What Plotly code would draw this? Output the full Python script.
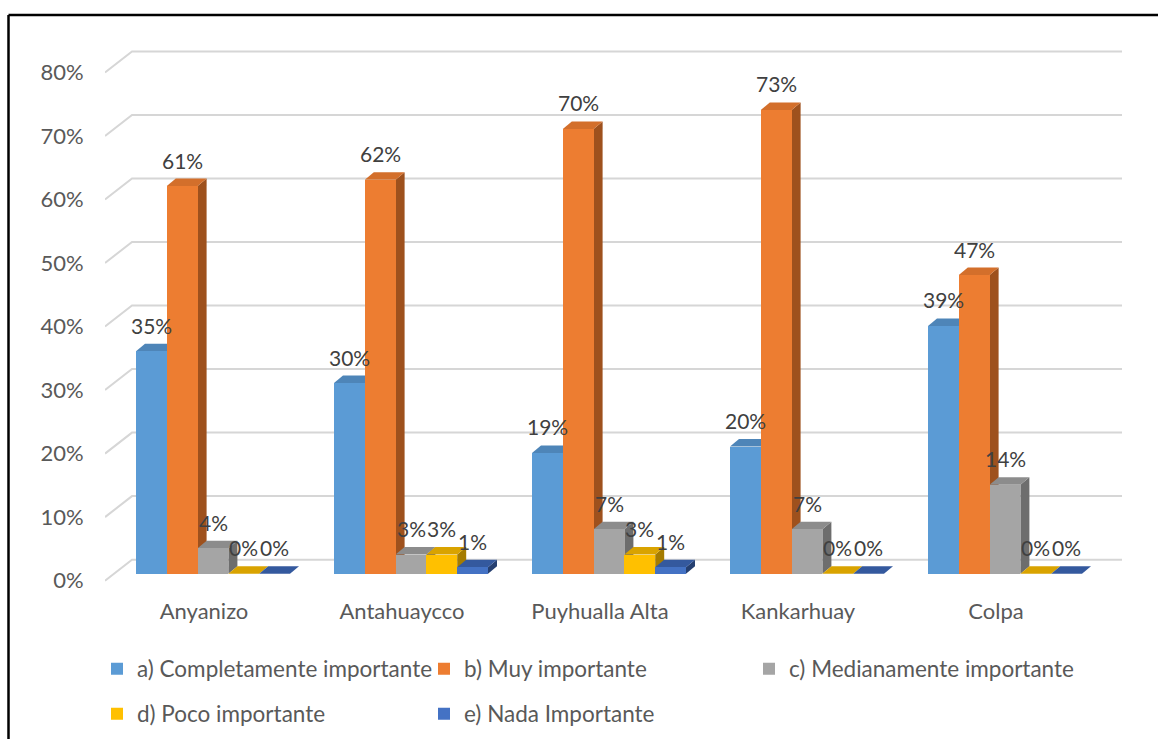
import plotly.graph_objects as go

# ---- data -------------------------------------------------------------
categories = ["Anyanizo", "Antahuaycco", "Puyhualla Alta", "Kankarhuay", "Colpa"]
series_names = [
    "a) Completamente importante",
    "b) Muy importante",
    "c) Medianamente importante",
    "d) Poco importante",
    "e) Nada Importante",
]
completamente = [35, 30, 19, 20, 39]
muy = [61, 62, 70, 73, 47]
medianamente = [4, 3, 7, 7, 14]
poco = [0, 3, 3, 0, 0]
nada = [0, 1, 1, 0, 0]
y_ticks = [0, 10, 20, 30, 40, 50, 60, 70, 80]

series_values = [completamente, muy, medianamente, poco, nada]

# ---- styling ----------------------------------------------------------
front_colors = ["#5B9BD5", "#ED7D31", "#A5A5A5", "#FFC000", "#4472C4"]
top_colors = ["#4E85B8", "#D36F2B", "#8C8C8C", "#D9A300", "#34599E"]
side_colors = ["#3E6A94", "#9E511D", "#6D6D6D", "#A57C00", "#253F70"]
FONT = "Lato, 'Open Sans', sans-serif"

W, H = 1158, 739
ML, MR, MT, MB = 105, 36, 47, 152
PLOT_W = W - ML - MR
PLOT_H = H - MT - MB
SLOT_PX = PLOT_W / (len(categories) + 27 / 198)      # pixels per category slot
Y_MIN, Y_MAX = -1, 84
PX_PER_PCT = PLOT_H / (Y_MAX - Y_MIN)

# 3D projection offsets (pixels -> axis units)
WALL_DX = 27 / SLOT_PX          # depth of the back wall
WALL_DY = 21 / PX_PER_PCT
BAR_BASE = 7 / PX_PER_PCT       # bars sit a little behind the front plane
BAR_W = 30.8 / SLOT_PX
GROUP_START = 31 / SLOT_PX
DEPTH_DX = 9 / SLOT_PX          # depth of each column
DEPTH_DY = 7.5 / PX_PER_PCT

# legend entry anchors (left edge px, row centre px): two rows, three columns
LEGEND_SLOTS = [(97, 669), (424, 669), (749, 669), (97, 714), (424, 714)]


def paper_x(px):
    return (px - ML) / PLOT_W


def paper_y(py):
    return (MT + PLOT_H - py) / PLOT_H


shapes = []

# back-wall gridlines with the diagonal floor edge
for v in y_ticks:
    shapes.append(dict(
        type="path", xref="x", yref="y", layer="below",
        path=(f"M {-0.5},{v} L {-0.5 + WALL_DX},{v + WALL_DY} "
              f"L {len(categories) - 0.5 + WALL_DX},{v + WALL_DY}"),
        line=dict(color="#D6D6D6", width=2),
    ))

fig = go.Figure()
annotations = []
legend_layouts = {}

for k, (name, vals) in enumerate(zip(series_names, series_values)):
    centers = [i - 0.5 + GROUP_START + BAR_W * (k + 0.5) for i in range(len(categories))]
    for xc, v in zip(centers, vals):
        xl, xr = xc - BAR_W / 2, xc + BAR_W / 2
        top = BAR_BASE + v
        # right side face
        shapes.append(dict(
            type="path", xref="x", yref="y", layer="below",
            path=(f"M {xr},{BAR_BASE} L {xr},{top} L {xr + DEPTH_DX},{top + DEPTH_DY} "
                  f"L {xr + DEPTH_DX},{BAR_BASE + DEPTH_DY} Z"),
            fillcolor=side_colors[k], line=dict(width=0),
        ))
        # top face
        shapes.append(dict(
            type="path", xref="x", yref="y", layer="below",
            path=(f"M {xl},{top} L {xr},{top} L {xr + DEPTH_DX},{top + DEPTH_DY} "
                  f"L {xl + DEPTH_DX},{top + DEPTH_DY} Z"),
            fillcolor=top_colors[k], line=dict(width=0),
        ))
        annotations.append(dict(
            x=xc, y=top, xref="x", yref="y", text=f"{v}%", showarrow=False,
            yanchor="middle", xanchor="center", yshift=26,
            font=dict(family=FONT, size=21, color="#404040"),
        ))

    legend_id = "legend" if k == 0 else f"legend{k + 1}"
    lx, ly = LEGEND_SLOTS[k]
    legend_layouts[legend_id] = dict(
        x=paper_x(lx), y=paper_y(ly), xanchor="left", yanchor="middle",
        orientation="h",
        font=dict(family=FONT, size=22.5, color="#595959"),
        bgcolor="rgba(0,0,0,0)", borderwidth=0,
        itemclick=False, itemdoubleclick=False,
    )
    fig.add_trace(go.Bar(
        x=centers, y=vals, base=BAR_BASE, width=BAR_W, name=name,
        marker=dict(color=front_colors[k], line=dict(width=0)),
        legend=legend_id,
        hoverinfo="skip",
    ))

# outer frame of the chart area
shapes.append(dict(type="line", xref="paper", yref="paper",
                   x0=paper_x(8.5), x1=paper_x(8.5), y0=paper_y(15), y1=paper_y(H + 10),
                   line=dict(color="black", width=2.5)))
shapes.append(dict(type="line", xref="paper", yref="paper",
                   x0=paper_x(8.5), x1=paper_x(W + 10), y0=paper_y(15), y1=paper_y(15),
                   line=dict(color="black", width=2.5)))

fig.update_layout(
    width=W, height=H,
    margin=dict(l=ML, r=MR, t=MT, b=MB, autoexpand=False),
    paper_bgcolor="white", plot_bgcolor="white",
    barmode="overlay", bargap=0,
    shapes=shapes, annotations=annotations,
    showlegend=True,
    xaxis=dict(
        range=[-0.5, len(categories) - 0.5 + WALL_DX],
        tickvals=list(range(len(categories))), ticktext=categories,
        showgrid=False, zeroline=False, showline=False,
        ticks="outside", ticklen=5, tickcolor="rgba(0,0,0,0)",
        tickfont=dict(family=FONT, size=22, color="#595959"),
        fixedrange=True,
    ),
    yaxis=dict(
        range=[Y_MIN, Y_MAX],
        tickvals=y_ticks, ticktext=[f"{v}%" for v in y_ticks],
        showgrid=False, zeroline=False, showline=False,
        ticks="outside", ticklen=16, tickcolor="rgba(0,0,0,0)",
        tickfont=dict(family=FONT, size=22, color="#595959"),
        fixedrange=True,
    ),
    **legend_layouts,
)

fig.write_html("out.html")
